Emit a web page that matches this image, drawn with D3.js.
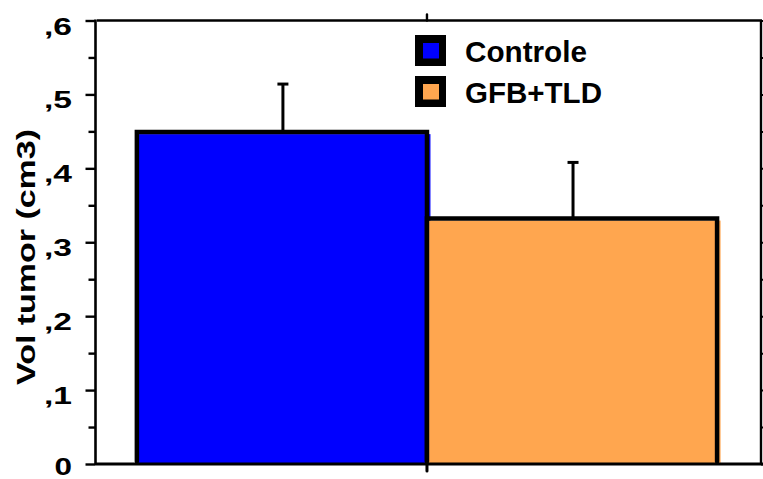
<!DOCTYPE html>
<html>
<head>
<meta charset="utf-8">
<script src="https://cdn.jsdelivr.net/npm/d3@7/dist/d3.min.js"></script>
<style>
  html, body { margin: 0; padding: 0; background: #fff; }
  svg { display: block; }
  text { font-family: "Liberation Sans", Arial, sans-serif; font-weight: bold; fill: #000; }
</style>
</head>
<body>
<svg id="chart" width="763" height="479"></svg>
<script>
// ---- data ----
const categories = ["Controle", "GFB+TLD"];
const values = [0.449, 0.332];
const errorsUp = [0.065, 0.076];
const colors = ["#0000FF", "#FFA64F"];
const yMajorTicks = [0, 0.1, 0.2, 0.3, 0.4, 0.5, 0.6];
const yTickLabels = ["0", ",1", ",2", ",3", ",4", ",5", ",6"];
const yMinorTicks = [0.05, 0.15, 0.25, 0.35, 0.45, 0.55];
const yTitle = "Vol tumor (cm3)";

// ---- layout ----
const plot = { left: 95.5, right: 761, top: 20.5, bottom: 464 };
const svg = d3.select("#chart");

const y = d3.scaleLinear().domain([0, 0.6]).range([plot.bottom, plot.top]);
const x = d3.scaleBand().domain(categories).range([plot.left, plot.right])
  .paddingInner(0).paddingOuter(0.147).align(0.485);

// ---- bars ----
const bars = svg.append("g");
categories.forEach((c, i) => {
  const x0 = x(c), x1 = x(c) + x.bandwidth();
  const yt = y(values[i]);
  bars.append("rect")
    .attr("x", x0 + 1).attr("y", yt + 2)
    .attr("width", x1 + 3.5 - (x0 + 1)).attr("height", plot.bottom - (yt + 2))
    .attr("fill", colors[i]);
  bars.append("path")
    .attr("d", `M${x0},${plot.bottom - 2.5}L${x0},${yt}L${x1},${yt}L${x1},${plot.bottom - 2.5}`)
    .attr("fill", "none").attr("stroke", "#000").attr("stroke-width", 4.5)
    .attr("stroke-linecap", "round").attr("stroke-linejoin", "miter");
});

// ---- error bars ----
const eb = svg.append("g").attr("stroke", "#000");
categories.forEach((c, i) => {
  const cx = x(c) + x.bandwidth() / 2 + 1;
  const yt = y(values[i]);
  const ye = y(values[i] + errorsUp[i]);
  eb.append("line").attr("x1", cx).attr("x2", cx).attr("y1", yt).attr("y2", ye).attr("stroke-width", 3);
  eb.append("line").attr("x1", cx - 5.5).attr("x2", cx + 5.5).attr("y1", ye).attr("y2", ye).attr("stroke-width", 3);
});

// ---- frame ----
const frame = svg.append("g").attr("stroke", "#000").attr("fill", "none");
frame.append("line").attr("x1", plot.left).attr("x2", plot.left).attr("y1", plot.top - 1).attr("y2", plot.bottom + 1).attr("stroke-width", 2.6);
frame.append("line").attr("x1", plot.left + 1.5).attr("x2", plot.right + 1).attr("y1", plot.top).attr("y2", plot.top).attr("stroke-width", 2.6);
frame.append("line").attr("x1", plot.right).attr("x2", plot.right).attr("y1", plot.top).attr("y2", plot.bottom).attr("stroke-width", 2.4);
frame.append("line").attr("x1", plot.left).attr("x2", plot.right + 2).attr("y1", plot.bottom).attr("y2", plot.bottom).attr("stroke-width", 2.8);

// left axis ticks
const axMaj = d3.axisLeft(y).tickValues(yMajorTicks).tickSize(10).tickSizeOuter(0).tickFormat("");
const axMin = d3.axisLeft(y).tickValues(yMinorTicks).tickSize(7).tickSizeOuter(0).tickFormat("");
[axMaj, axMin].forEach(ax => {
  const g = svg.append("g").attr("transform", `translate(${plot.left},0)`).call(ax);
  g.select(".domain").remove();
  g.selectAll(".tick line").attr("stroke", "#000").attr("stroke-width", 2.4);
});
// right axis ticks
const axR = d3.axisRight(y).tickValues(yMajorTicks.concat(yMinorTicks)).tickSize(6).tickSizeOuter(0).tickFormat("");
const gR = svg.append("g").attr("transform", `translate(${plot.right},0)`).call(axR);
gR.select(".domain").remove();
gR.selectAll(".tick line").attr("stroke", "#000").attr("stroke-width", 2);

// category separator ticks (bottom and top)
const sepX = x(categories[1]);
frame.append("line").attr("x1", sepX).attr("x2", sepX).attr("y1", plot.bottom).attr("y2", plot.bottom + 7).attr("stroke-width", 3).attr("stroke-linecap", "round");
frame.append("line").attr("x1", sepX).attr("x2", sepX).attr("y1", plot.top - 6).attr("y2", plot.top).attr("stroke-width", 2.4).attr("stroke-linecap", "round");

// tick labels
const tl = svg.append("g");
yMajorTicks.forEach((v, i) => {
  const lab = yTickLabels[i];
  tl.append("text")
    .attr("x", 72).attr("y", Math.min(y(v) + 14, 475))
    .attr("text-anchor", "end")
    .attr("font-size", lab.length > 1 ? 24 : 23)
    .attr("textLength", lab.length > 1 ? 28 : 17.5)
    .attr("lengthAdjust", "spacingAndGlyphs")
    .text(lab);
});

// y title
svg.append("text")
  .attr("transform", `translate(35,257) rotate(-90)`)
  .attr("text-anchor", "middle")
  .attr("font-size", 25)
  .attr("textLength", 256)
  .attr("lengthAdjust", "spacingAndGlyphs")
  .text(yTitle);

// ---- legend ----
const legend = svg.append("g");
const legendTextLen = [122, 137];
categories.forEach((c, i) => {
  const ly = 35 + i * 41;
  legend.append("rect").attr("x", 415).attr("y", ly).attr("width", 31).attr("height", 31).attr("fill", "#000");
  legend.append("rect").attr("x", 423).attr("y", ly + 8).attr("width", 16).attr("height", 15.5).attr("fill", colors[i]);
  legend.append("text")
    .attr("x", 465).attr("y", ly + 26.5)
    .attr("font-size", 30)
    .attr("textLength", legendTextLen[i])
    .attr("lengthAdjust", "spacingAndGlyphs")
    .text(c);
});
</script>
</body>
</html>
